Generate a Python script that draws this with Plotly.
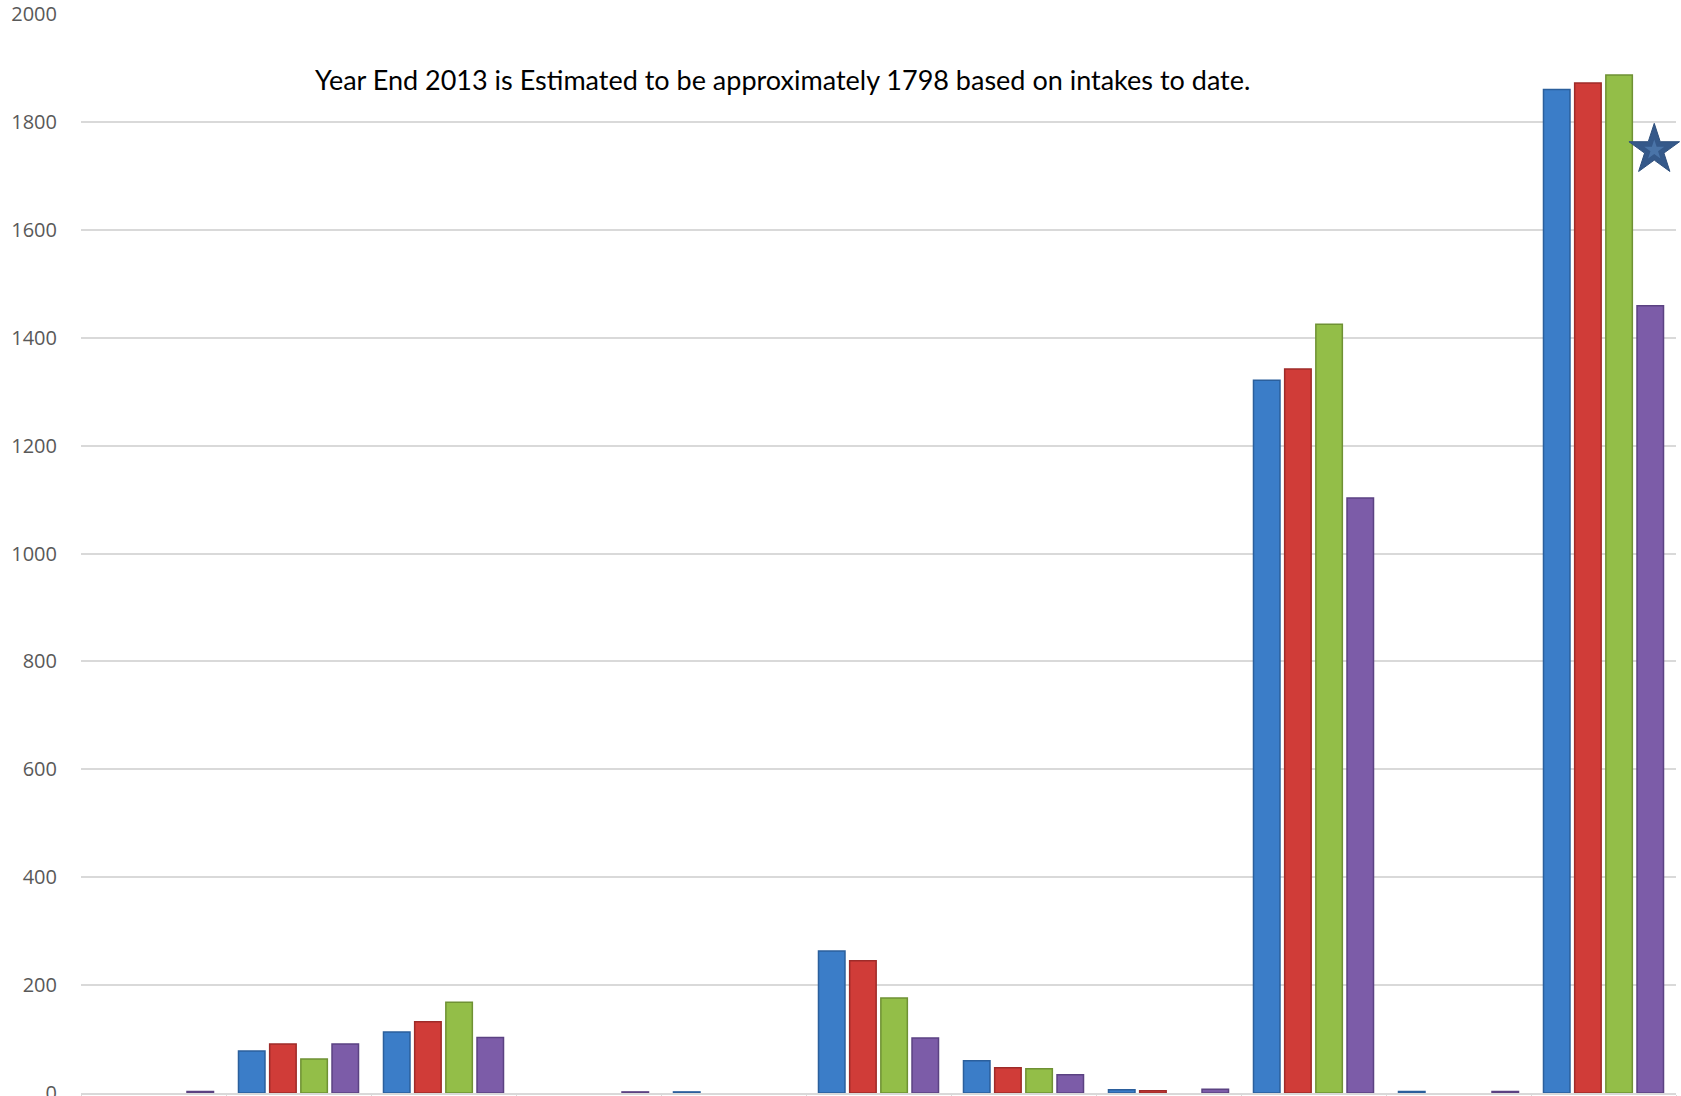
import plotly.graph_objects as go

categories = ["Group 1", "Group 2", "Group 3", "Group 4", "Group 5", "Group 6",
              "Group 7", "Group 8", "Group 9", "Group 10", "Group 11"]
series_names = ["Series 1", "Series 2", "Series 3", "Series 4"]
series_1 = [None, 78, 113, None, 2, 263, 60, 6, 1321, 3, 1860]
series_2 = [None, 91, 132, None, None, 245, 47, 4, 1342, None, 1872]
series_3 = [None, 63, 168, None, None, 176, 45, None, 1425, None, 1887]
series_4 = [3, 91, 103, 2, None, 102, 34, 7, 1103, 3, 1459]
star_position = [10.35]
star_value = [1748]
note_text = "Year End 2013 is Estimated to be approximately 1798 based on intakes to date."
y_ticks = [0, 200, 400, 600, 800, 1000, 1200, 1400, 1600, 1800, 2000]

fill_colors = ["#3B7DC8", "#D03C38", "#93BE48", "#7C5CA8"]
edge_colors = ["#2B5F9C", "#9E2B29", "#6F9134", "#5B4282"]

fig = go.Figure()
for name, vals, fc, ec in zip(series_names, [series_1, series_2, series_3, series_4],
                              fill_colors, edge_colors):
    fig.add_trace(go.Bar(
        x=categories, y=vals, name=name,
        marker=dict(color=fc, line=dict(color=ec, width=1.5)),
    ))

# star marker on an overlaid linear axis
fig.add_trace(go.Scatter(
    x=star_position, y=star_value, xaxis="x2", mode="markers",
    marker=dict(symbol="star", size=38, color="#35598A",
                line=dict(color="#2E4F7C", width=1)),
    showlegend=False, cliponaxis=False, hoverinfo="skip",
))
fig.add_trace(go.Scatter(
    x=star_position, y=star_value, xaxis="x2", mode="markers",
    marker=dict(symbol="star", size=15, color="#4A74A8"),
    showlegend=False, cliponaxis=False, hoverinfo="skip",
))

fig.add_annotation(
    text=note_text, xref="paper", yref="paper", x=0.4395, y=0.939,
    showarrow=False, xanchor="center", yanchor="middle",
    font=dict(family="Lato, Open Sans, sans-serif", size=27, color="#000000"),
)

fig.update_layout(
    width=1681, height=1096,
    margin=dict(l=81, r=5, t=14, b=3, autoexpand=False),
    paper_bgcolor="white", plot_bgcolor="white",
    barmode="group", bargap=0.14, bargroupgap=0.15,
    showlegend=False,
    xaxis=dict(
        type="category", range=[-0.5, 10.5], showticklabels=False,
        showgrid=False, showline=True, linecolor="#D9D9D9", linewidth=2,
        ticks="outside", tickson="boundaries", ticklen=6, tickcolor="#D9D9D9",
        zeroline=False, automargin=False,
    ),
    xaxis2=dict(
        overlaying="x", range=[-0.5, 10.5], visible=False, type="linear",
    ),
    yaxis=dict(
        range=[0, 2000], tickvals=y_ticks, showgrid=True, gridcolor="#D9D9D9",
        gridwidth=1.5, zeroline=False, showline=False, automargin=False,
        tickfont=dict(family="Open Sans, sans-serif", size=20, color="#595959"),
        ticklabelstandoff=23, ticklabeloverflow="allow",
    ),
)

fig.write_html(
    "out.html",
    config={"displayModeBar": False},
    post_script="document.body.style.margin='0';document.body.style.overflow='hidden';",
)
